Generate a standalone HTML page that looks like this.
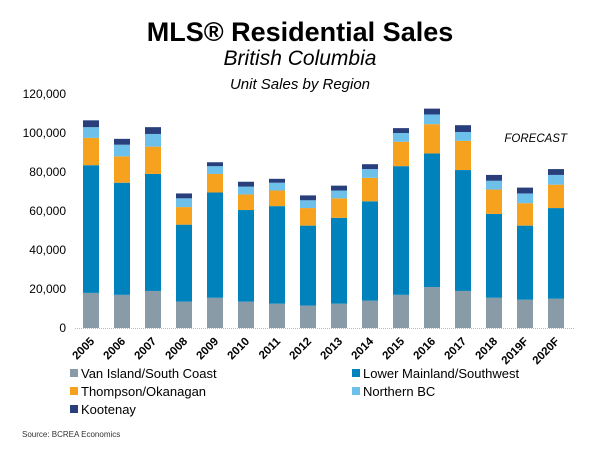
<!DOCTYPE html>
<html><head><meta charset="utf-8"><style>
body{margin:0;background:#fff;font-family:"Liberation Sans",sans-serif;}
svg{display:block}
</style></head><body>
<svg id="chart" width="600" height="450">
<text x="300" y="41" text-anchor="middle" font-size="27" font-weight="bold" fill="#000">MLS® Residential Sales</text>
<text x="300" y="65" text-anchor="middle" font-size="21" font-style="italic" fill="#000">British Columbia</text>
<text x="300" y="89" text-anchor="middle" font-size="15" font-style="italic" fill="#000">Unit Sales by Region</text>
<text x="567" y="142" text-anchor="end" font-size="11.5" font-style="italic" fill="#000">FORECAST</text>
<g id="yaxis"></g><g id="bars"></g><g id="xaxis"></g><g id="legend"></g>
<text x="22" y="437" font-size="8" fill="#333">Source: BCREA Economics</text>
</svg>
<script>
const categories=["2005","2006","2007","2008","2009","2010","2011","2012","2013","2014","2015","2016","2017","2018","2019F","2020F"];
const vanIsland=[18000,17000,19000,13500,15500,13500,12500,11500,12500,14000,17000,21000,19000,15500,14500,15000];
const lowerMainland=[65500,57500,60000,39500,54000,47000,50000,41000,44000,51000,66000,68500,62000,43000,38000,46500];
const thompson=[14000,13500,14000,9000,9500,8000,8000,9000,10000,12000,12500,15000,15000,12500,11500,12000];
const northernBC=[5500,6000,6500,4500,4000,4000,4000,4000,4000,4500,4500,5000,4500,4500,5000,5000];
const kootenay=[3500,3000,3500,2500,2000,2500,2000,2500,2500,2500,2500,3000,3500,3000,3000,3000];
const yTicks=[0,20000,40000,60000,80000,100000,120000];
const seriesNames=["Van Island/South Coast","Lower Mainland/Southwest","Thompson/Okanagan","Northern BC","Kootenay"];
const NS="http://www.w3.org/2000/svg";
const series=[vanIsland,lowerMainland,thompson,northernBC,kootenay];
const colors=["#8a9ba8","#0083bd","#f7a21f","#6cc0e9","#283f7c"];
const names=["van-island","lower-mainland","thompson-okanagan","northern-bc","kootenay"];
const y0=328,y1=94,yMax=120000;
function yScale(v){return y0-(v/yMax)*(y0-y1);}
function xCenter(i){return 91+i*31;}
function mk(tag,attrs,parent){const e=document.createElementNS(NS,tag);for(const k in attrs)e.setAttribute(k,attrs[k]);parent.appendChild(e);return e;}
const yaxis=document.getElementById('yaxis'),bars=document.getElementById('bars'),xaxis=document.getElementById('xaxis'),legend=document.getElementById('legend');
yTicks.forEach(t=>{const tx=mk('text',{x:66,y:yScale(t)+4,'text-anchor':'end','font-size':12,fill:'#000'},yaxis);tx.textContent=t.toLocaleString('en-US');

});
const base=mk('line',{x1:75,x2:575,y1:y0+0.5,y2:y0+0.5,stroke:'#bbb','stroke-dasharray':'1,1'},yaxis);


categories.forEach((c,i)=>{let cum=0;series.forEach((s,k)=>{const top=cum+s[i];const r=mk('rect',{x:xCenter(i)-8,y:yScale(top),width:16,height:yScale(cum)-yScale(top),fill:colors[k]},bars);


cum=top;});
const cx=xCenter(i)+4,cy=342;const tx=mk('text',{x:cx,y:cy,'text-anchor':'end','font-size':11.5,'font-weight':'bold',fill:'#000',transform:'rotate(-45 '+cx+' '+cy+')'},xaxis);tx.textContent=c;

});
const lpos=[[70,378],[352,378],[70,396],[352,396],[70,414]];
seriesNames.forEach((n,k)=>{const g=mk('g',{},legend);


mk('rect',{x:lpos[k][0],y:lpos[k][1]-9,width:8,height:8,fill:colors[k]},g);
const t=mk('text',{x:lpos[k][0]+11,y:lpos[k][1],'font-size':13,fill:'#000'},g);t.textContent=n;});
</script>
</body></html>
